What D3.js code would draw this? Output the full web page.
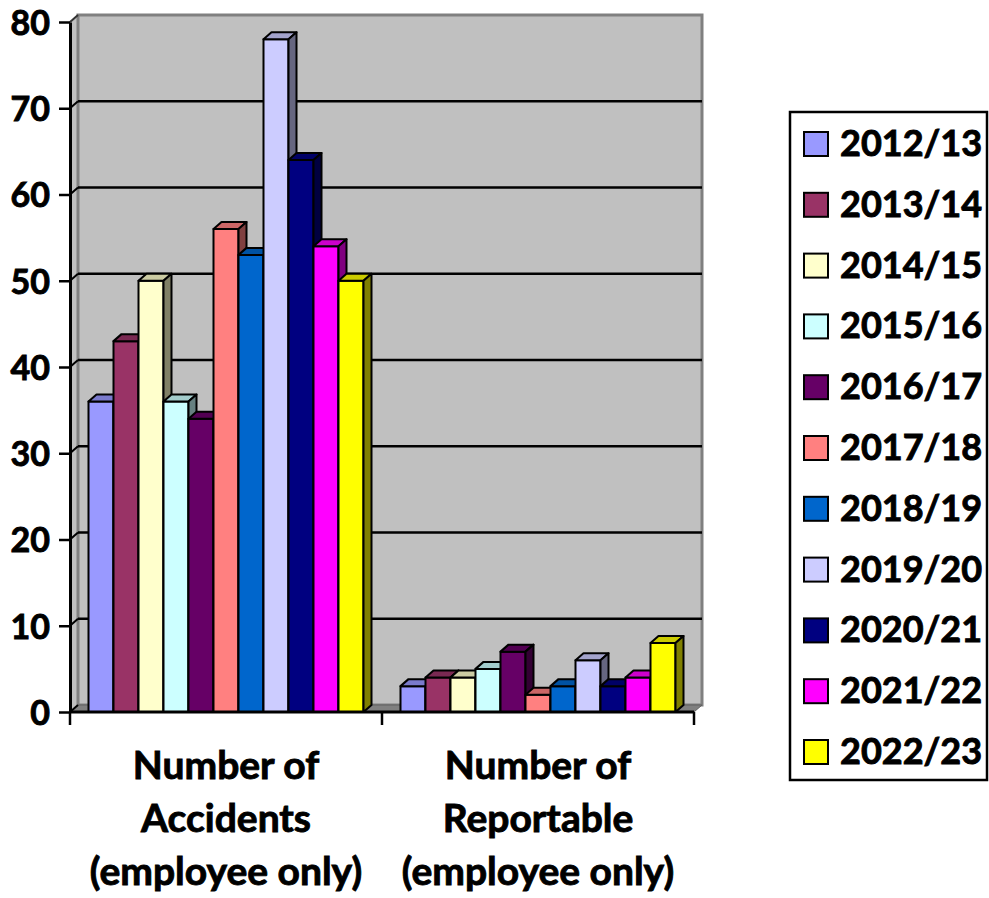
<!DOCTYPE html>
<html>
<head>
<meta charset="utf-8">
<script src="https://cdn.jsdelivr.net/npm/d3@7"></script>
<style>
  html, body { margin: 0; padding: 0; background: #ffffff; }
  svg { display: block; }
  text { font-family: Lato, "Open Sans", sans-serif; font-weight: bold; fill: #000; stroke: #000; stroke-width: 0.9px; }
</style>
</head>
<body>
<svg id="chart" width="989" height="898"></svg>
<script>
// ---- data ----
const categories = [
  ["Number of", "Accidents", "(employee only)"],
  ["Number of", "Reportable", "(employee only)"]
];
const categoryKeys = ["accidents", "reportable"];
const seriesNames = ["2012/13", "2013/14", "2014/15", "2015/16", "2016/17", "2017/18",
                     "2018/19", "2019/20", "2020/21", "2021/22", "2022/23"];
const accidents  = [36, 43, 50, 36, 34, 56, 53, 78, 64, 54, 50];
const reportable = [3, 4, 4, 5, 7, 2, 3, 6, 3, 4, 8];
const seriesColors = ["#9999FF", "#993366", "#FFFFCC", "#CCFFFF", "#660066", "#FF8080",
                      "#0066CC", "#CCCCFF", "#000080", "#FF00FF", "#FFFF00"];
const yTicks = [0, 10, 20, 30, 40, 50, 60, 70, 80];

// ---- layout ----
const svg = d3.select("#chart");
const pLeft = 70, pRight = 694, pBottom = 712, pTop = 22;
const dx = 8, dy = 7;

const y = d3.scaleLinear().domain([0, 80]).range([pBottom, pTop]);
const x0 = d3.scaleBand().domain(categoryKeys).range([pLeft, pRight]).paddingInner(0).paddingOuter(0);
const x1 = d3.scaleBand().domain(seriesNames).range([0, x0.bandwidth()]).paddingInner(0).paddingOuter(0.74);
const color = d3.scaleOrdinal().domain(seriesNames).range(seriesColors);

// ---- walls ----
const wallFill = "#C0C0C0", wallEdge = "#808080";
svg.append("polygon")
  .attr("points", [[pLeft, y(0)], [pLeft, y(80)], [pLeft + dx, y(80) - dy], [pLeft + dx, y(0) - dy]].join(" "))
  .attr("fill", wallFill).attr("stroke", "none");
svg.append("rect")
  .attr("x", pLeft + dx).attr("y", y(80) - dy)
  .attr("width", pRight - pLeft).attr("height", y(0) - y(80))
  .attr("fill", wallFill).attr("stroke", wallEdge).attr("stroke-width", 3);
svg.append("polygon")
  .attr("points", [[pLeft, y(0)], [pLeft + dx, y(0) - dy], [pRight + dx, y(0) - dy], [pRight, y(0)]].join(" "))
  .attr("fill", wallEdge).attr("stroke", "#606060").attr("stroke-width", 1);

// gridlines
const grid = yTicks.filter(v => v > 0 && v < 80);
svg.append("g").selectAll("line").data(grid).join("line")
  .attr("x1", pLeft + dx).attr("x2", pRight + dx)
  .attr("y1", d => y(d) - dy).attr("y2", d => y(d) - dy)
  .attr("stroke", "#000").attr("stroke-width", 2.5);
svg.append("g").selectAll("line").data(yTicks.filter(v => v < 80)).join("line")
  .attr("x1", pLeft).attr("x2", pLeft + dx)
  .attr("y1", d => y(d)).attr("y2", d => y(d) - dy)
  .attr("stroke", "#000").attr("stroke-width", 2);
svg.append("line")
  .attr("x1", pLeft).attr("y1", y(80)).attr("x2", pLeft + dx).attr("y2", y(80) - dy)
  .attr("stroke", "#333").attr("stroke-width", 2);

// ---- bars ----
const dataByCat = { accidents: accidents, reportable: reportable };
const shade = (c, k) => { const r = d3.rgb(c); return d3.rgb(r.r * k, r.g * k, r.b * k).toString(); };

categoryKeys.forEach(cat => {
  const g = svg.append("g").attr("transform", `translate(${x0(cat)},0)`);
  const vals = dataByCat[cat];
  seriesNames.forEach((s, i) => {
    const bx = x1(s), bw = x1.bandwidth();
    const yt = y(vals[i]), yb = y(0);
    const c = color(s);
    const bar = g.append("g");
    bar.append("rect")
      .attr("x", bx).attr("y", yt).attr("width", bw).attr("height", yb - yt)
      .attr("fill", c).attr("stroke", "#000").attr("stroke-width", 2).attr("stroke-linejoin", "round");
    bar.append("polygon")
      .attr("points", [[bx, yt], [bx + dx, yt - dy], [bx + bw + dx, yt - dy], [bx + bw, yt]].join(" "))
      .attr("fill", shade(c, 0.8)).attr("stroke", "#000").attr("stroke-width", 2).attr("stroke-linejoin", "round");
    bar.append("polygon")
      .attr("points", [[bx + bw, yt], [bx + bw + dx, yt - dy], [bx + bw + dx, yb - dy], [bx + bw, yb]].join(" "))
      .attr("fill", shade(c, 0.5)).attr("stroke", "#000").attr("stroke-width", 2).attr("stroke-linejoin", "round");
  });
});

// ---- axes ----
const yAxis = d3.axisLeft(y).tickValues(yTicks).tickSize(11).tickSizeOuter(0).tickPadding(9);
const ya = svg.append("g").attr("transform", `translate(${pLeft},0)`).call(yAxis);
ya.select(".domain").attr("stroke", "#000").attr("stroke-width", 3);
ya.selectAll(".tick line").attr("stroke", "#000").attr("stroke-width", 2.5);
ya.selectAll(".tick text").style("font-size", "34px").style("font-family", "Lato, sans-serif")
  .style("font-weight", "bold").attr("fill", "#000").attr("dy", "0.36em");

const xb = svg.append("g");
xb.append("line").attr("x1", pLeft).attr("x2", pRight).attr("y1", y(0)).attr("y2", y(0))
  .attr("stroke", "#000").attr("stroke-width", 3);
const bounds = [x0(categoryKeys[0])].concat(categoryKeys.map(k => x0(k) + x0.bandwidth()));
xb.selectAll("line.t").data(bounds).join("line")
  .attr("x1", d => d).attr("x2", d => d).attr("y1", y(0)).attr("y2", y(0) + 13)
  .attr("stroke", "#000").attr("stroke-width", 2.5);

// category labels
categoryKeys.forEach((k, ci) => {
  const cx = x0(k) + x0.bandwidth() / 2;
  const t = svg.append("text").attr("text-anchor", "middle").style("font-size", "39px");
  categories[ci].forEach((line, li) => {
    t.append("tspan").attr("x", cx).attr("y", 779 + li * 53).text(line);
  });
});

// ---- legend ----
const lg = svg.append("g");
lg.append("rect").attr("x", 790).attr("y", 112).attr("width", 197).attr("height", 668)
  .attr("fill", "#fff").attr("stroke", "#000").attr("stroke-width", 2.5);
const ly = d3.scalePoint().domain(seriesNames).range([144, 752]);
const items = lg.selectAll("g.item").data(seriesNames).join("g")
  .attr("transform", d => `translate(0,${ly(d)})`);
items.append("rect").attr("x", 804).attr("y", -12).attr("width", 24).attr("height", 24)
  .attr("fill", d => color(d)).attr("stroke", "#000").attr("stroke-width", 2);
items.append("text").attr("x", 840).attr("y", 12).style("font-size", "36px").text(d => d);
</script>
</body>
</html>
